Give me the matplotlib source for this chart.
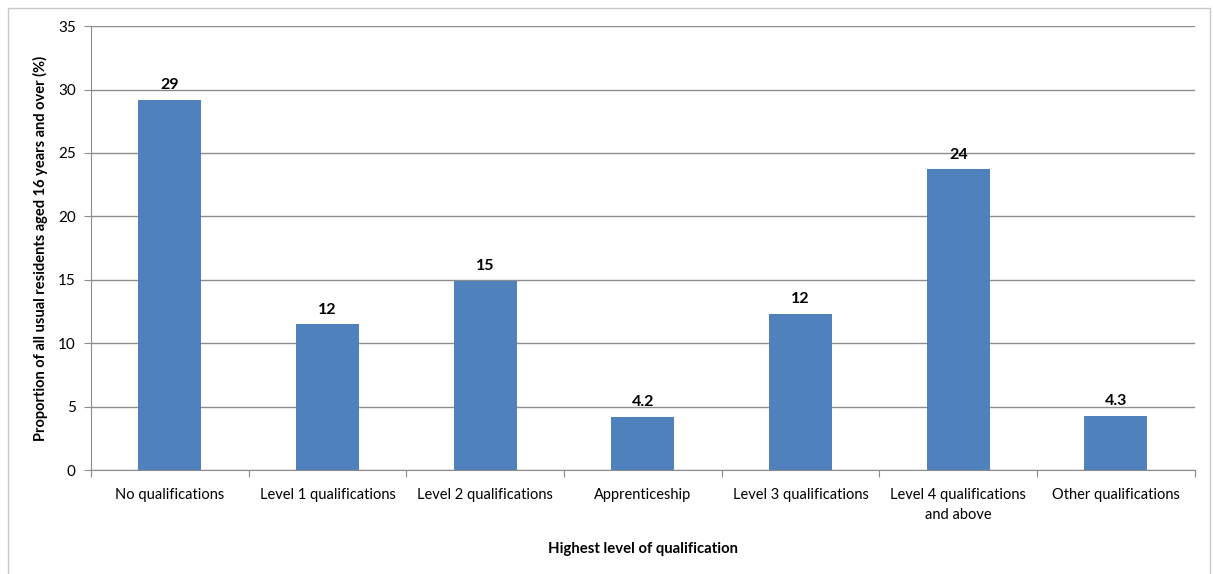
import matplotlib
matplotlib.use("Agg")
from matplotlib import pyplot as plt
from matplotlib.patches import Rectangle
import numpy as np

categories = ["No qualifications", "Level 1 qualifications", "Level 2 qualifications",
              "Apprenticeship", "Level 3 qualifications",
              "Level 4 qualifications\nand above", "Other qualifications"]
values = [29.2, 11.5, 14.9, 4.2, 12.3, 23.7, 4.3]
yticks = [0, 5, 10, 15, 20, 25, 30, 35]

plt.rcParams['font.family'] = ['Lato', 'DejaVu Sans']
GRID = '#8c8c8c'

fig = plt.figure(figsize=(12.13, 5.74), dpi=100)
ax = fig.add_axes([0.075, 0.181, 0.910, 0.7735])

x = np.arange(len(categories))
ax.bar(x, values, width=0.4, color='#4f81bd', zorder=3)
for xi, v in zip(x, values):
    ax.text(xi, v + 0.6, f"{v:.2g}", ha='center', va='bottom',
            fontsize=11.5, fontweight='bold')

ax.set_xlim(-0.5, len(categories) - 0.5)
ax.set_ylim(0, 35)
ax.set_yticks(yticks)
ax.yaxis.grid(True, color=GRID, linewidth=1, zorder=0)

# category labels between the boundary ticks
ax.set_xticks(np.arange(len(categories) + 1) - 0.5)
ax.set_xticklabels([])
ax.set_xticks(x, minor=True)
ax.set_xticklabels(categories, minor=True, fontsize=10.5, linespacing=1.5)
ax.tick_params(axis='x', which='minor', length=0, pad=13)
ax.tick_params(axis='x', which='major', length=5, color=GRID)
ax.tick_params(axis='y', length=5, color=GRID, labelsize=11, pad=6)

for side in ['top', 'right']:
    ax.spines[side].set_visible(False)
for side in ['left', 'bottom']:
    ax.spines[side].set_color(GRID)

ax.set_xlabel("Highest level of qualification", fontsize=10.7, fontweight='bold')
ax.xaxis.set_label_coords(0.5, -0.163)
ax.set_ylabel("Proportion of all usual residents aged 16 years and over (%)",
              fontsize=10.5, fontweight='bold')
ax.yaxis.set_label_coords(-0.039, 0.5)

# chart-area border
fig.patches.append(Rectangle((8 / 1213, -0.05), 1202 / 1213, 1.05 - 8 / 574,
                             transform=fig.transFigure, fill=False,
                             edgecolor='#c8c8c8', linewidth=1))

fig.savefig("out.png", dpi=100)
